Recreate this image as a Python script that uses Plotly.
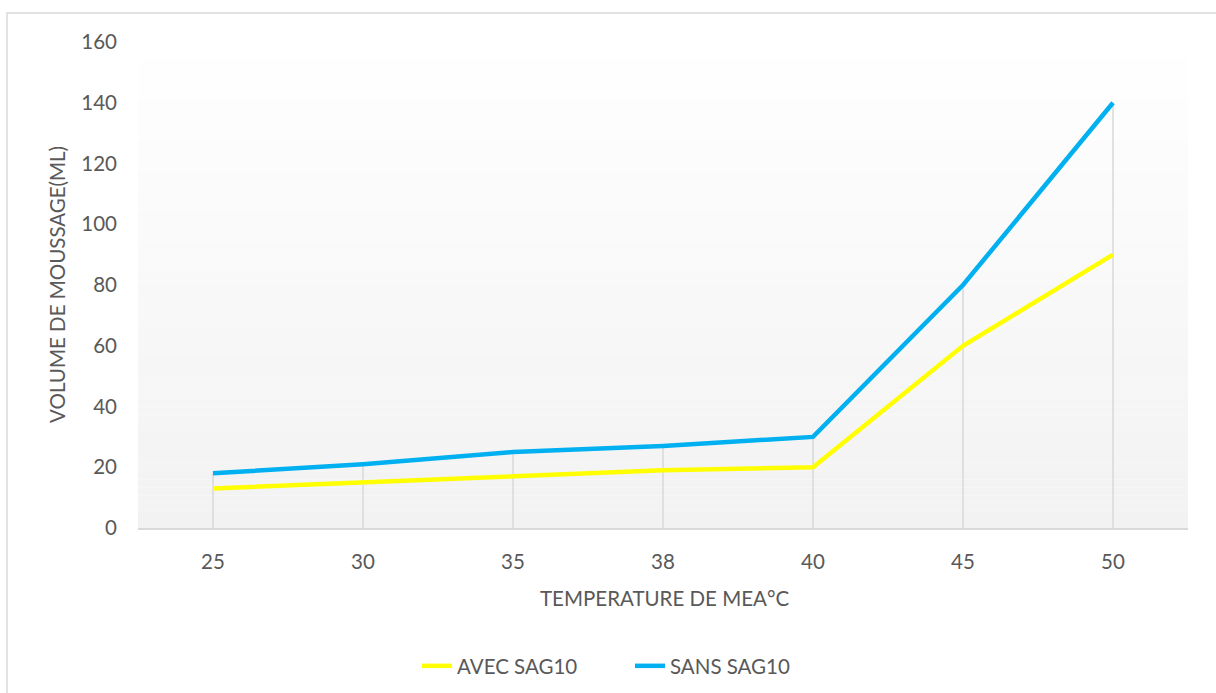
import plotly.graph_objects as go

temperatures = ["25", "30", "35", "38", "40", "45", "50"]
avec_sag10 = [13, 15, 17, 19, 20, 60, 90]
sans_sag10 = [18, 21, 25, 27, 30, 80, 140]
y_ticks = [0, 20, 40, 60, 80, 100, 120, 140, 160]

FONT = "Lato"
TXT = "#595959"
FS = 20.5

fig = go.Figure()

# drop lines from the highest point of each category down to the axis
dx, dy = [], []
for t, a, s in zip(temperatures, avec_sag10, sans_sag10):
    dx += [t, t, None]
    dy += [0, max(a, s), None]
fig.add_trace(go.Scatter(x=dx, y=dy, mode="lines",
                         line=dict(color="#d9d9d9", width=1.5),
                         hoverinfo="skip", showlegend=False))

fig.add_trace(go.Scatter(x=temperatures, y=avec_sag10, mode="lines",
                         name="AVEC SAG10",
                         line=dict(color="#FFFF00", width=4.5)))
fig.add_trace(go.Scatter(x=temperatures, y=sans_sag10, mode="lines",
                         name="SANS SAG10",
                         line=dict(color="#00B0F0", width=4.5)))

# plot-area gradient (white top -> light gray bottom)
shapes = []
n = 60
for i in range(n):
    f = (i + 0.5) / n  # 0 at bottom, 1 at top
    c = round(242 + (255 - 242) * f)
    shapes.append(dict(type="rect", xref="x domain", yref="y domain",
                       x0=0, x1=1, y0=i / n, y1=(i + 1) / n,
                       fillcolor=f"rgb({c},{c},{c})", line=dict(width=0),
                       layer="below"))
# chart border
shapes.append(dict(type="rect", xref="paper", yref="paper",
                   x0=-131 / 1050, x1=1.2, y0=-0.5, y1=(528 - 13) / 486,
                   line=dict(color="#d9d9d9", width=1.5),
                   fillcolor="rgba(0,0,0,0)", layer="below"))

fig.update_layout(
    width=1216, height=693,
    margin=dict(l=138, r=28, t=42, b=165, autoexpand=False),
    paper_bgcolor="white", plot_bgcolor="rgba(0,0,0,0)",
    font=dict(family=FONT, size=FS, color=TXT),
    shapes=shapes,
    showlegend=True,
    legend=dict(orientation="h", x=(630 - 138) / 1050, xanchor="center",
                y=-(666 - 528) / 486, yanchor="middle",
                font=dict(family=FONT, size=FS, color=TXT),
                entrywidth=168, tracegroupgap=0),
    annotations=[
        dict(text="TEMPERATURE DE MEA°C", xref="paper", yref="paper",
             x=(664 - 138) / 1050, y=-(598 - 528) / 486,
             xanchor="center", yanchor="middle", showarrow=False,
             font=dict(family=FONT, size=FS, color=TXT)),
        dict(text="VOLUME DE MOUSSAGE(ML)", xref="paper", yref="paper",
             x=-(138 - 57) / 1050, y=(528 - 285) / 486, textangle=-90,
             xanchor="center", yanchor="middle", showarrow=False,
             font=dict(family=FONT, size=FS, color=TXT)),
    ],
)

fig.update_xaxes(type="category", categoryorder="array",
                 categoryarray=temperatures, range=[-0.5, 6.5],
                 showgrid=False, zeroline=False,
                 showline=True, linecolor="#d9d9d9", linewidth=2,
                 ticks="", ticklabelstandoff=14,
                 tickfont=dict(family=FONT, size=FS, color=TXT))
fig.update_yaxes(range=[0, 160], tickvals=y_ticks,
                 showgrid=False, zeroline=False, showline=False,
                 ticks="", ticklabelstandoff=20,
                 tickfont=dict(family=FONT, size=FS, color=TXT))

fig.write_html("out.html")
